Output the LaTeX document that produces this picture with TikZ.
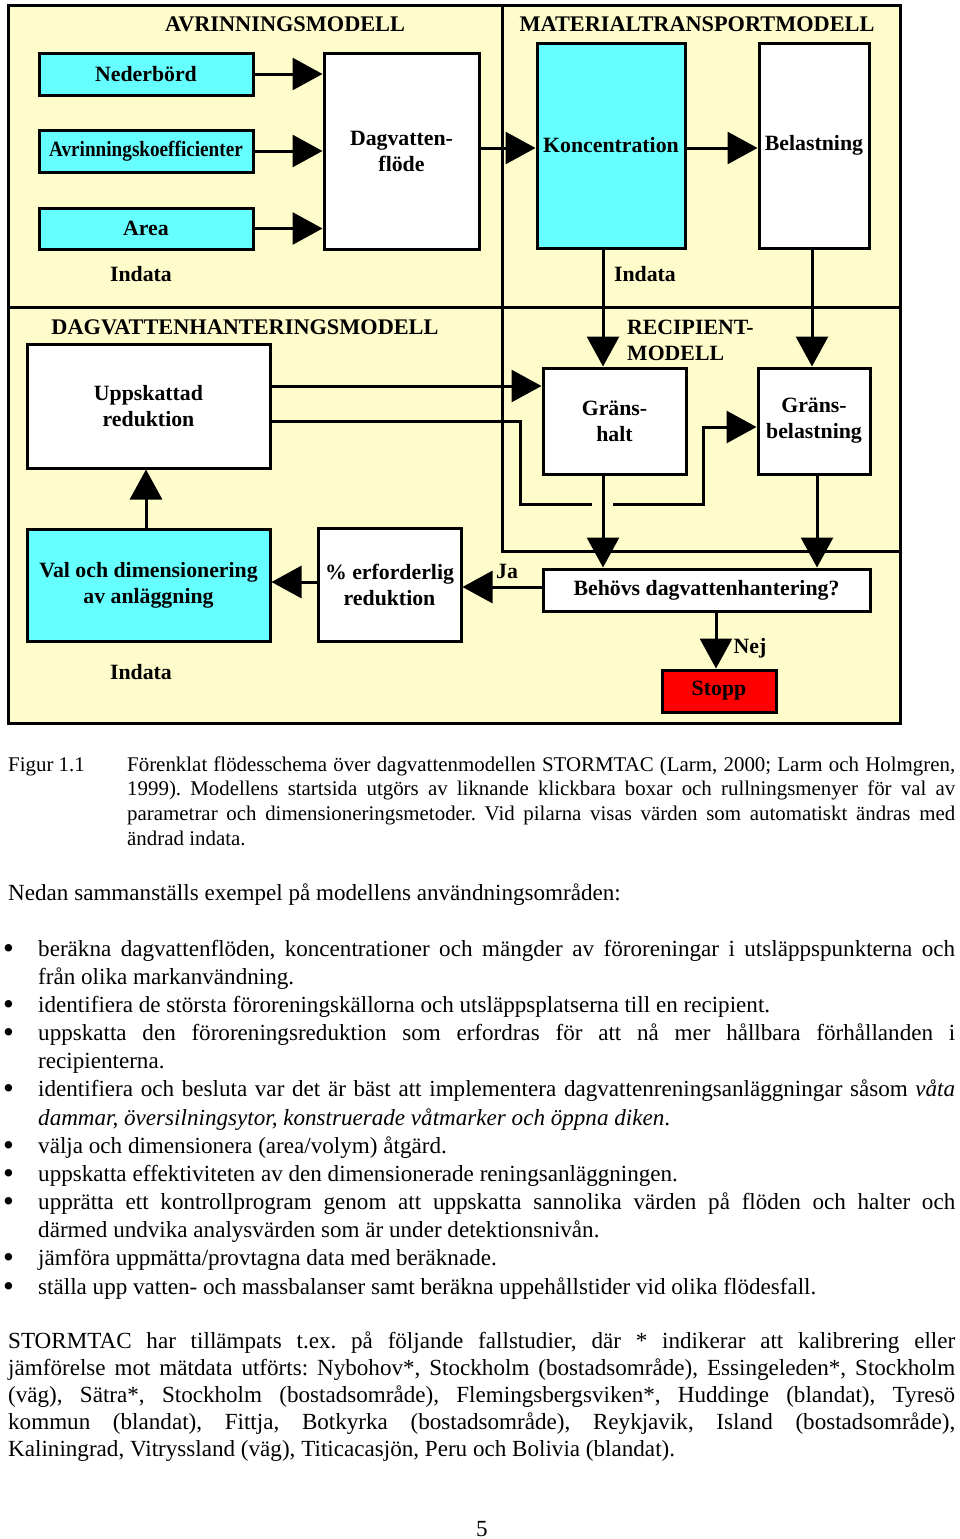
\documentclass[tikz,border=0pt]{standalone}
\usepackage{fontspec}
\setmainfont{Liberation Serif}
\usetikzlibrary{arrows.meta}
\definecolor{cream}{HTML}{FFFCCC}
\definecolor{cyanbox}{HTML}{66FFFF}
\definecolor{stopred}{HTML}{FF0000}
\frenchspacing
\begin{document}
\begin{tikzpicture}[x=1pt,y=-1pt,
  frame/.style={line width=3pt},
  box/.style={draw, line width=3pt, fill=white, inner sep=0pt, align=center,
    font=\fontsize{21.8}{26}\selectfont\bfseries},
  inbox/.style={box, fill=cyanbox},
  lbl/.style={font=\fontsize{21.8}{26}\selectfont\bfseries, inner sep=0pt},
  ttl/.style={font=\fontsize{22.3}{26}\selectfont\bfseries, inner sep=0pt},
  arr/.style={line width=3pt, -{Triangle[length=30pt,width=32pt]}},
  conn/.style={line width=3pt},
  txt/.style={anchor=base west, inner sep=0pt, font=\fontsize{23.1}{28}\selectfont\frenchspacing},
  dot/.style={anchor=base west, inner sep=0pt, font=\fontsize{31}{28}\selectfont},
  captxt/.style={anchor=base west, inner sep=0pt, font=\fontsize{20.9}{25}\selectfont\frenchspacing}]
\useasboundingbox (0,0) rectangle (960,1539);
\fill[white] (0,0) rectangle (960,1539);
% frame
\draw[frame, fill=cream] (8,5) rectangle (900,723);
\draw[frame] (8,307) -- (900,307);
\draw[frame] (502,5) -- (502,551) -- (900,551);
% titles
\node[ttl] (t1) at (285,24) {AVRINNINGSMODELL};
\node[ttl] (t2) at (697,24) {MATERIALTRANSPORTMODELL};
\node[ttl] (t3) at (245,327) {DAGVATTENHANTERINGSMODELL};
\node[lbl, align=left, anchor=west] (t4) at (627,340) {RECIPIENT-\\MODELL};
\node[lbl] (in1) at (141,274) {Indata};
\node[lbl] (in2) at (645,274) {Indata};
\node[lbl] (in3) at (141,672) {Indata};
\node[lbl] (ja) at (507,571) {Ja};
\node[lbl] (nej) at (750,648) {Nej};
% boxes
\node[inbox, minimum width=214pt, minimum height=42pt] (ned) at (146,74) {Nederbörd};
\node[inbox, minimum width=214pt, minimum height=42pt] (avr) at (146,151) {\scalebox{0.88}[1]{Avrinningskoefficienter}};
\node[inbox, minimum width=214pt, minimum height=41pt] (area) at (146,228.5) {Area};
\node[box, minimum width=155pt, minimum height=196pt] (dag) at (401.5,151) {Dagvatten-\\flöde};
\node[inbox, minimum width=148pt, minimum height=205pt] (konc) at (611,145.5) {Koncentration};
\node[box, minimum width=110pt, minimum height=205pt] (bel) at (814,145.5) {Belastning};
\node[box, minimum width=243pt, minimum height=124pt] (upp) at (148.5,406) {Uppskattad\\reduktion};
\node[box, minimum width=143pt, minimum height=106pt] (gh) at (614.5,421) {Gräns-\\halt};
\node[box, minimum width=112pt, minimum height=106pt] (gb) at (814,421) {Gräns-\\belastning};
\node[inbox, minimum width=243pt, minimum height=112pt] (val) at (148.5,585) {Val och dimensionering\\av anläggning};
\node[box, minimum width=143pt, minimum height=113pt] (erf) at (389.5,584.5) {\% erforderlig\\reduktion};
\node[box, minimum width=327pt, minimum height=42pt] (beh) at (706.5,590) {Behövs dagvattenhantering?};
\node[box, fill=stopred, minimum width=114pt, minimum height=42pt] (stopp) at (719,691) {Stopp};
% helper coordinates
\coordinate (xk) at (603,0);
\coordinate (xb) at (812,0);
\coordinate (xg) at (817,0);
\coordinate (xv) at (146,0);
\coordinate (xs) at (716,0);
\coordinate (y1) at (0,386);
\coordinate (y2) at (0,421);
\coordinate (yj) at (0,587);
\coordinate (ye) at (0,582);
\coordinate (yk) at (0,148);
\coordinate (r1) at (520,421);
\coordinate (r2) at (520,504);
\coordinate (r3) at (592,504);
\coordinate (r4) at (613,504);
\coordinate (r5) at (703,504);
\coordinate (r6) at (703,427);
% connectors
\draw[arr] (ned.east) -- (ned.east -| dag.west);
\draw[arr] (avr.east) -- (avr.east -| dag.west);
\draw[arr] (area.east) -- (area.east -| dag.west);
\draw[arr] (dag.east |- yk) -- (konc.west |- yk);
\draw[arr] (konc.east |- yk) -- (bel.west |- yk);
\draw[arr] (konc.south -| xk) -- (gh.north -| xk);
\draw[arr] (bel.south -| xb) -- (gb.north -| xb);
\draw[arr] (upp.east |- y1) -- (gh.west |- y1);
\draw[conn] (upp.east |- y2) -- (r1) -- (r2) -- (r3);
\draw[arr] (r4) -- (r5) -- (r6) -- (gb.west |- r6);
\draw[arr] (gh.south -| xk) -- (beh.north -| xk);
\draw[arr] (gb.south -| xg) -- (beh.north -| xg);
\draw[arr] (beh.west |- yj) -- (erf.east |- yj);
\draw[arr] (erf.west |- ye) -- (val.east |- ye);
\draw[arr] (val.north -| xv) -- (upp.south -| xv);
\draw[arr] (beh.south -| xs) -- (stopp.north -| xs);
% caption
\node[captxt] (fig) at (8,771) {Figur 1.1};
\node[captxt] (c1) at (127,771) {\makebox[828pt][s]{Förenklat flödesschema över dagvattenmodellen STORMTAC (Larm, 2000; Larm och Holmgren,}};
\node[captxt] (c2) at (127,795.5) {\makebox[828pt][s]{1999). Modellens startsida utgörs av liknande klickbara boxar och rullningsmenyer för val av}};
\node[captxt] (c3) at (127,820) {\makebox[828pt][s]{parametrar och dimensioneringsmetoder. Vid pilarna visas värden som automatiskt ändras med}};
\node[captxt] (c4) at (127,845) {ändrad indata.};
% intro
\node[txt] (p0) at (8,900) {Nedan sammanställs exempel på modellens användningsområden:};
% bullets
\node[dot] (d1) at (3,958) {\textbullet};
\node[txt] (b1a) at (38,956) {\makebox[917pt][s]{beräkna dagvattenflöden, koncentrationer och mängder av föroreningar i utsläppspunkterna och}};
\node[txt] (b1b) at (38,984.2) {från olika markanvändning.};
\node[dot] (d2) at (3,1014.3) {\textbullet};
\node[txt] (b2) at (38,1012.3) {identifiera de största föroreningskällorna och utsläppsplatserna till en recipient.};
\node[dot] (d3) at (3,1042.5) {\textbullet};
\node[txt] (b3a) at (38,1040.5) {\makebox[917pt][s]{uppskatta den föroreningsreduktion som erfordras för att nå mer hållbara förhållanden i}};
\node[txt] (b3b) at (38,1068.7) {recipienterna.};
\node[dot] (d4) at (3,1098.9) {\textbullet};
\node[txt] (b4a) at (38,1096.9) {\makebox[917pt][s]{identifiera och besluta var det är bäst att implementera dagvattenreningsanläggningar såsom \textit{våta}}};
\node[txt] (b4b) at (38,1125) {\textit{dammar, översilningsytor, konstruerade våtmarker och öppna diken}.};
\node[dot] (d5) at (3,1155.2) {\textbullet};
\node[txt] (b5) at (38,1153.2) {välja och dimensionera (area/volym) åtgärd.};
\node[dot] (d6) at (3,1183.4) {\textbullet};
\node[txt] (b6) at (38,1181.4) {uppskatta effektiviteten av den dimensionerade reningsanläggningen.};
\node[dot] (d7) at (3,1211.5) {\textbullet};
\node[txt] (b7a) at (38,1209.5) {\makebox[917pt][s]{upprätta ett kontrollprogram genom att uppskatta sannolika värden på flöden och halter och}};
\node[txt] (b7b) at (38,1237.7) {därmed undvika analysvärden som är under detektionsnivån.};
\node[dot] (d8) at (3,1267.9) {\textbullet};
\node[txt] (b8) at (38,1265.9) {jämföra uppmätta/provtagna data med beräknade.};
\node[dot] (d9) at (3,1296) {\textbullet};
\node[txt] (b9) at (38,1294) {ställa upp vatten- och massbalanser samt beräkna uppehållstider vid olika flödesfall.};
% paragraph
\node[txt] (s1) at (8,1348) {\makebox[947pt][s]{STORMTAC har tillämpats t.ex. på följande fallstudier, där * indikerar att kalibrering eller}};
\node[txt] (s2) at (8,1375) {\makebox[947pt][s]{jämförelse mot mätdata utförts: Nybohov*, Stockholm (bostadsområde), Essingeleden*, Stockholm}};
\node[txt] (s3) at (8,1402) {\makebox[947pt][s]{(väg), Sätra*, Stockholm (bostadsområde), Flemingsbergsviken*, Huddinge (blandat), Tyresö}};
\node[txt] (s4) at (8,1429) {\makebox[947pt][s]{kommun (blandat), Fittja, Botkyrka (bostadsområde), Reykjavik, Island (bostadsområde),}};
\node[txt] (s5) at (8,1456) {Kaliningrad, Vitryssland (väg), Titicacasjön, Peru och Bolivia (blandat).};
\node[txt, anchor=base] (pg) at (482,1536) {5};
\end{tikzpicture}
\end{document}
